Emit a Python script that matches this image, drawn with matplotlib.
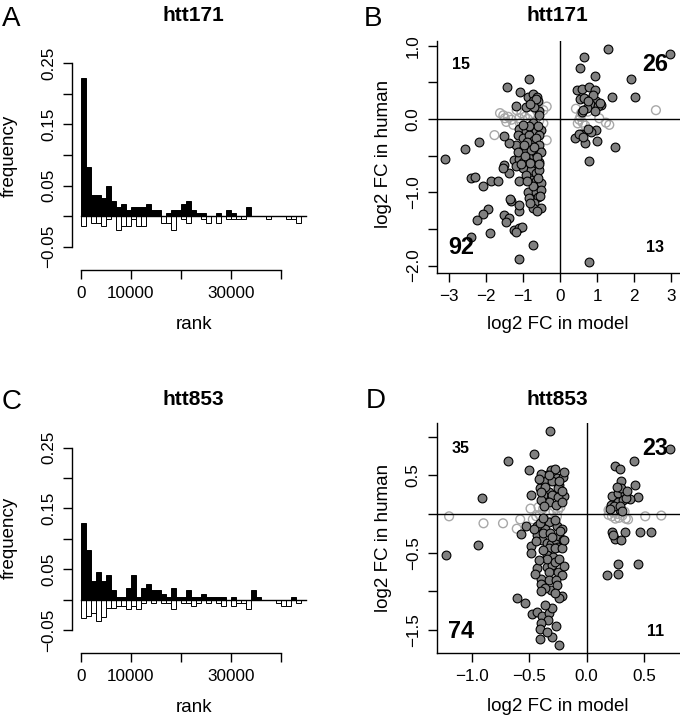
import numpy as np
import matplotlib
matplotlib.use("Agg")
import matplotlib.pyplot as plt

plt.rcParams['font.family'] = ['Liberation Sans', 'DejaVu Sans']
M = '\u2212'

# ---------------- data ----------------
rank_bin_start = np.arange(45) * 1000   # rank bins of width 1000
bin_width = 1000

a_pos = [0.226, 0.080, 0.035, 0.035, 0.030, 0.050, 0.025, 0.015, 0.020, 0.010,
         0.015, 0.015, 0.015, 0.020, 0.010, 0.010, 0.000, 0.005, 0.010, 0.010,
         0.020, 0.025, 0.010, 0.005, 0.005, 0.000, 0.000, 0.005, 0.000, 0.010,
         0.005, 0.000, 0.000, 0.015, 0.000, 0.000, 0.000, 0.000, 0.000, 0.000,
         0.000, 0.000, 0.000, 0.000, 0.000]
a_neg = [-0.016, 0.000, -0.011, -0.011, -0.016, -0.005, 0.000, -0.022, -0.016, -0.016,
         -0.005, -0.016, -0.016, 0.000, 0.000, 0.000, -0.011, -0.011, -0.022, 0.000,
         -0.005, -0.011, 0.000, 0.000, -0.005, -0.011, 0.000, -0.011, 0.000, -0.005,
         -0.005, -0.005, -0.005, 0.000, 0.000, 0.000, 0.000, -0.005, 0.000, 0.000,
         0.000, -0.005, -0.005, -0.011, 0.000]
c_pos = [0.126, 0.081, 0.031, 0.046, 0.031, 0.041, 0.016, 0.005, 0.005, 0.020,
         0.041, 0.005, 0.020, 0.026, 0.016, 0.016, 0.010, 0.005, 0.020, 0.005,
         0.005, 0.016, 0.005, 0.005, 0.010, 0.005, 0.005, 0.005, 0.005, 0.000,
         0.005, 0.000, 0.000, 0.000, 0.016, 0.005, 0.000, 0.000, 0.000, 0.000,
         0.000, 0.000, 0.005, 0.000, 0.000]
c_neg = [-0.030, -0.026, -0.021, -0.035, -0.029, -0.014, -0.014, -0.010, -0.010, -0.015,
         -0.010, -0.015, -0.005, 0.000, -0.005, 0.000, -0.005, -0.005, -0.015, 0.000,
         -0.005, -0.005, -0.010, -0.005, 0.000, -0.005, 0.000, -0.005, -0.010, 0.000,
         -0.010, -0.005, -0.005, -0.015, 0.000, 0.000, 0.000, 0.000, 0.000, -0.005,
         -0.010, -0.010, 0.000, -0.005, 0.000]

# panel B (htt171): significant points (filled) and non-significant (open)
b_sig = [
    # upper right
    (1.29, 0.96), (2.97, 0.88), (0.66, 0.84), (0.54, 0.69), (0.95, 0.59), (1.92, 0.55),
    (2.03, 0.30), (1.41, 0.30), (0.45, 0.40), (0.59, 0.41), (0.79, 0.43), (0.95, 0.40),
    (0.54, 0.27), (0.66, 0.29), (0.84, 0.27), (0.97, 0.24), (1.11, 0.19), (0.81, 0.20),
    (1.03, 0.18), (0.72, 0.15), (0.95, 0.11), (0.59, 0.09), (0.88, 0.33), (1.07, 0.22),
    (0.62, 0.12), (0.75, 0.25),
    # lower right
    (0.41, -0.26), (0.57, -0.21), (0.79, -0.15), (0.97, -0.15), (0.84, -0.18), (0.68, -0.33),
    (0.99, -0.30), (1.49, -0.38), (0.79, -0.57), (0.79, -1.95), (0.52, -0.20), (0.75, -0.14),
    (0.62, -0.24),
    # upper left
    (-0.83, 0.54), (-1.43, 0.44), (-1.08, 0.37), (-0.87, 0.30), (-0.74, 0.34), (-0.63, 0.30),
    (-0.60, 0.25), (-0.74, 0.24), (-0.92, 0.17), (-1.19, 0.18), (-0.56, 0.11), (-0.69, 0.17),
    (-0.66, 0.27), (-0.80, 0.20), (-0.58, 0.05),
    # lower left
    (-3.10, -0.54), (-2.41, -0.81), (-2.30, -0.79), (-2.09, -0.91), (-1.86, -0.85), (-1.68, -0.85),
    (-1.50, -0.63), (-1.38, -0.74), (-1.55, -0.67),
    (-1.23, -0.56), (-1.10, -0.54), (-0.99, -0.58), (-0.87, -0.54), (-0.74, -0.49), (-0.65, -0.47),
    (-0.54, -0.44), (-0.56, -0.58), (-0.69, -0.60), (-1.01, -0.67), (-1.19, -0.64), (-0.78, -0.70),
    (-0.65, -0.74), (-0.56, -0.70), (-1.10, -0.84), (-0.78, -0.83), (-0.65, -0.85), (-0.51, -0.88),
    (-0.87, -1.00), (-0.65, -0.99), (-0.51, -0.97), (-0.60, -1.06), (-0.83, -1.08), (-0.69, -1.15),
    (-0.51, -1.22), (-0.74, -1.22), (-1.32, -1.12), (-1.35, -1.09), (-1.10, -1.26), (-1.12, -1.17),
    (-1.50, -1.31), (-1.37, -1.35), (-1.46, -1.40), (-1.23, -1.51), (-1.10, -1.49), (-1.03, -1.47),
    (-1.19, -1.54), (-1.95, -1.23), (-2.09, -1.29), (-2.23, -1.38), (-2.41, -1.61), (-1.90, -1.56),
    (-0.74, -1.72), (-1.10, -1.91),
    (-0.74, -0.06), (-1.10, -0.13), (-0.92, -0.17), (-0.65, -0.17), (-0.51, -0.15), (-0.56, -0.22),
    (-1.14, -0.22), (-1.01, -0.26), (-0.83, -0.22), (-0.69, -0.29), (-0.65, -0.26), (-0.56, -0.35),
    (-1.19, -0.35), (-1.37, -0.33), (-1.50, -0.23), (-2.18, -0.32), (-2.56, -0.41), (-1.01, -0.42),
    (-0.78, -0.42), (-0.51, -0.45), (-1.14, -0.45),
    (-0.60, -0.10), (-0.85, -0.10), (-1.00, -0.08), (-0.70, -0.38), (-0.90, -0.32), (-0.62, -0.52),
    (-0.95, -0.50), (-0.80, -0.60), (-0.60, -0.80), (-0.92, -0.76), (-0.72, -0.92), (-0.55, -1.05),
    (-0.80, -1.15), (-0.62, -1.25), (-0.98, -0.35), (-1.05, -0.62), (-0.88, -0.85), (-0.58, -0.62),
]
b_ns = [
    (0.43, 0.14), (0.57, 0.08), (0.52, -0.01), (0.48, -0.06), (0.61, -0.05), (1.06, 0.01),
    (1.24, -0.05), (1.33, -0.08), (2.59, 0.12), (0.75, 0.10), (0.55, 0.03), (0.68, -0.09),
    (-1.77, -0.22), (-1.62, 0.08), (-1.53, 0.05), (-1.49, 0.01), (-1.40, 0.03), (-1.31, -0.01),
    (-1.17, 0.12), (-1.04, 0.08), (-0.95, 0.03), (-0.81, 0.05), (-0.63, 0.12), (-0.45, 0.12),
    (-0.36, 0.17), (-0.36, -0.29), (-0.45, -0.06), (-0.72, -0.04), (-1.08, -0.06), (-1.26, -0.08),
    (-1.10, 0.01), (-0.56, -0.02), (-1.45, -0.04), (-0.87, 0.00),
]
b_counts = ['15', '26', '92', '13']

# panel D (htt853)
d_sig = [
    # upper left
    (-0.32, 1.07), (-0.46, 0.77), (-0.69, 0.68), (-0.50, 0.57), (-0.31, 0.57), (-0.35, 0.51),
    (-0.26, 0.47), (-0.21, 0.48), (-0.20, 0.54), (-0.39, 0.40), (-0.37, 0.44), (-0.24, 0.38),
    (-0.41, 0.34), (-0.33, 0.29), (-0.38, 0.24), (-0.25, 0.33), (-0.30, 0.24), (-0.20, 0.23),
    (-0.25, 0.22), (-0.33, 0.16), (-0.49, 0.24), (-0.91, 0.21), (-0.40, 0.18),
    (-0.40, 0.52), (-0.28, 0.58), (-0.36, 0.35), (-0.22, 0.30), (-0.30, 0.42), (-0.42, 0.45),
    (-0.27, 0.12), (-0.37, 0.10), (-0.22, 0.16), (-0.33, 0.50), (-0.40, 0.28), (-0.24, 0.42),
    # lower left
    (-1.23, -0.53), (-0.95, -0.40), (-0.57, -0.26), (-0.49, -0.41), (-0.49, -0.51),
    (-0.43, -0.27), (-0.39, -0.33), (-0.35, -0.38), (-0.31, -0.39), (-0.27, -0.34), (-0.24, -0.28),
    (-0.21, -0.33), (-0.25, -0.42), (-0.33, -0.44), (-0.35, -0.53), (-0.28, -0.44), (-0.22, -0.44),
    (-0.43, -0.70), (-0.35, -0.68), (-0.30, -0.66), (-0.33, -0.75), (-0.25, -0.75), (-0.22, -0.79),
    (-0.40, -0.84), (-0.33, -0.85), (-0.27, -0.85), (-0.40, -0.91), (-0.31, -0.98), (-0.22, -1.06),
    (-0.24, -1.09), (-0.61, -1.09), (-0.54, -1.15),
    (-0.48, -1.29), (-0.43, -1.26), (-0.39, -1.32), (-0.33, -1.28), (-0.30, -1.22), (-0.34, -1.37),
    (-0.40, -1.41), (-0.41, -1.48), (-0.41, -1.61), (-0.30, -1.59), (-0.24, -1.69),
    (-0.53, -0.16), (-0.43, -0.15), (-0.33, -0.10), (-0.26, -0.15), (-0.22, -0.19), (-0.46, -0.20),
    (-0.36, -0.20),
    (-0.41, -0.12), (-0.38, -0.25), (-0.23, -0.22), (-0.20, -0.34), (-0.29, -0.56), (-0.35, -0.58),
    (-0.38, -0.46), (-0.28, -0.62), (-0.42, -0.60), (-0.26, -0.92), (-0.36, -0.95), (-0.28, -1.02),
    (-0.36, -1.18), (-0.27, -1.45), (-0.35, -1.52), (-0.32, -0.25), (-0.28, -0.08), (-0.38, -0.05),
    (-0.24, -0.58), (-0.44, -0.35), (-0.30, -0.30), (-0.40, -1.00), (-0.20, -0.67), (-0.45, -0.78),
    # upper right
    (0.73, 0.84), (0.41, 0.68), (0.25, 0.62), (0.29, 0.58), (0.30, 0.42), (0.42, 0.38),
    (0.22, 0.23), (0.27, 0.27), (0.33, 0.26), (0.30, 0.33), (0.45, 0.22), (0.38, 0.20),
    (0.21, 0.12), (0.27, 0.15), (0.32, 0.18), (0.29, 0.05), (0.24, 0.10), (0.29, 0.10),
    (0.34, 0.21), (0.20, 0.07), (0.26, 0.35), (0.35, 0.30), (0.31, 0.04),
    # lower right
    (0.22, -0.23), (0.25, -0.32), (0.30, -0.34), (0.33, -0.23), (0.46, -0.23), (0.56, -0.23),
    (0.27, -0.64), (0.45, -0.64), (0.18, -0.79), (0.27, -0.78), (0.23, -0.27),
]
d_ns = [
    (0.19, -0.01), (0.22, -0.03), (0.25, -0.06), (0.28, -0.05), (0.31, -0.02), (0.34, -0.06),
    (0.36, -0.07), (0.51, -0.03), (0.65, -0.02), (0.19, 0.05), (0.23, 0.02), (0.33, 0.03),
    (0.27, 0.00),
    (-1.20, -0.03), (-0.90, -0.12), (-0.73, -0.12), (-0.58, -0.07), (-0.49, 0.07), (-0.61, -0.19),
    (-0.47, -0.07), (-0.42, 0.09), (-0.38, 0.07), (-0.33, 0.01), (-0.29, 0.03), (-0.25, 0.05),
    (-0.26, -0.03), (-0.32, -0.06), (-0.41, -0.01), (-0.36, -0.08), (-0.23, 0.09), (-0.44, -0.03),
]
d_counts = ['35', '23', '74', '11']

titles = ['htt171', 'htt853']
letters = ['A', 'B', 'C', 'D']

# ---------------- layout helpers ----------------
W, H = 680, 719
fig = plt.figure(figsize=(6.8, 7.19), dpi=100)


def ax_px(left, top, right, bottom):
    return fig.add_axes([left / W, 1 - bottom / H, (right - left) / W, (bottom - top) / H])


def ftext(x, y, s, **kw):
    fig.text(x / W, 1 - y / H, s, **kw)


TICK_FS = 12.3
LAB_FS = 13.5


def style_ticks(ax):
    ax.tick_params(direction='out', length=6.5, width=1.0, labelsize=TICK_FS, pad=5,
                   color='black')
    for s in ['top', 'right']:
        ax.spines[s].set_visible(False)
    for s in ['left', 'bottom']:
        ax.spines[s].set_linewidth(1.0)


def hist_panel(ax, pos, neg):
    ax.bar(rank_bin_start, pos, width=bin_width, align='edge', color='black',
           edgecolor='black', linewidth=0.7)
    ax.bar(rank_bin_start, neg, width=bin_width, align='edge', color='white',
           edgecolor='black', linewidth=0.7)
    ax.plot([rank_bin_start[0], rank_bin_start[-1] + bin_width], [0, 0], color='black', lw=1.0)
    ax.set_xlim(-1800, 46800)
    ax.set_ylim(-0.088, 0.262)
    style_ticks(ax)
    ax.spines['left'].set_bounds(-0.05, 0.25)
    ax.spines['bottom'].set_bounds(0, 40000)
    ax.set_yticks([-0.05, 0, 0.05, 0.10, 0.15, 0.20, 0.25],
                  [M + '0.05', '', '0.05', '', '0.15', '', '0.25'],
                  rotation=90, va='center')
    ax.set_xticks([0, 10000, 20000, 30000, 40000], ['0', '10000', '', '30000', ''])


def scatter_panel(ax, sig, ns, xlim, ylim):
    sx, sy = zip(*sig)
    nx, ny = zip(*ns)
    ax.scatter(nx, ny, s=40, facecolors='none', edgecolors='#a8a8a8', linewidths=1.0, zorder=1)
    ax.axhline(0, color='black', lw=1.0, zorder=2)
    ax.axvline(0, color='black', lw=1.0, zorder=2)
    ax.scatter(sx, sy, s=40, c='#808080', edgecolors='black', linewidths=0.8, zorder=3)
    ax.set_xlim(*xlim)
    ax.set_ylim(*ylim)
    style_ticks(ax)


# ---------------- panel A ----------------
axA = ax_px(72, 55.8, 315, 270)
hist_panel(axA, a_pos, a_neg)

# ---------------- panel C ----------------
axC = ax_px(72, 440.3, 315, 653.3)
hist_panel(axC, c_pos, c_neg)

# ---------------- panel B ----------------
axB = ax_px(436.7, 40.7, 680, 272.7)
scatter_panel(axB, b_sig, b_ns, (-3.33, 3.24), (-2.097, 1.068))
axB.set_yticks([-2.0, -1.5, -1.0, -0.5, 0.0, 0.5, 1.0],
               [M + '2.0', '', M + '1.0', '', '0.0', '', '1.0'], rotation=90, va='center')
axB.set_xticks([-3, -2, -1, 0, 1, 2, 3],
               [M + '3', M + '2', M + '1', '0', '1', '2', '3'])
bq = [(-2.68, 0.75), (2.57, 0.74), (-2.68, -1.76), (2.57, -1.76)]
for (qx, qy), lab, fs in zip(bq, b_counts, [11.5, 16.8, 16.8, 11.5]):
    axB.text(qx, qy, lab, fontsize=fs, fontweight='bold', ha='center', va='center', zorder=4)

# ---------------- panel D ----------------
axD = ax_px(436.7, 423.3, 680, 653.3)
scatter_panel(axD, d_sig, d_ns, (-1.308, 0.813), (-1.80, 1.172))
axD.set_yticks([-1.5, -1.0, -0.5, 0.0, 0.5, 1.0],
               [M + '1.5', '', M + '0.5', '', '0.5', ''], rotation=90, va='center')
axD.set_xticks([-1.0, -0.5, 0.0, 0.5], [M + '1.0', M + '0.5', '0.0', '0.5'])
dq = [(-1.10, 0.85), (0.597, 0.85), (-1.10, -1.52), (0.597, -1.52)]
for (qx, qy), lab, fs in zip(dq, d_counts, [11.5, 16.8, 16.8, 11.5]):
    axD.text(qx, qy, lab, fontsize=fs, fontweight='bold', ha='center', va='center', zorder=4)

# ---------------- titles, letters, axis labels ----------------
ftext(193.5, 20.7, titles[0], fontsize=15, fontweight='bold', ha='center', va='baseline')
ftext(557, 20.7, titles[0], fontsize=15, fontweight='bold', ha='center', va='baseline')
ftext(193.5, 405, titles[1], fontsize=15, fontweight='bold', ha='center', va='baseline')
ftext(557, 405, titles[1], fontsize=15, fontweight='bold', ha='center', va='baseline')

ftext(2, 26, letters[0], fontsize=20, ha='left', va='baseline')
ftext(364, 26, letters[1], fontsize=20, ha='left', va='baseline')
ftext(2, 409, letters[2], fontsize=20, ha='left', va='baseline')
ftext(366, 408.5, letters[3], fontsize=20, ha='left', va='baseline')

ftext(9.5, 156, 'frequency', fontsize=LAB_FS, rotation=90, ha='center', va='center')
ftext(9.5, 538, 'frequency', fontsize=LAB_FS, rotation=90, ha='center', va='center')
ftext(194, 328.7, 'rank', fontsize=LAB_FS, ha='center', va='baseline')
ftext(194, 711.7, 'rank', fontsize=LAB_FS, ha='center', va='baseline')

ftext(383, 154, 'log2 FC in human', fontsize=LAB_FS, rotation=90, ha='center', va='center')
ftext(383, 538, 'log2 FC in human', fontsize=LAB_FS, rotation=90, ha='center', va='center')
ftext(558, 329, 'log2 FC in model', fontsize=LAB_FS, ha='center', va='baseline')
ftext(558, 711, 'log2 FC in model', fontsize=LAB_FS, ha='center', va='baseline')

fig.savefig('out.png', dpi=100)
